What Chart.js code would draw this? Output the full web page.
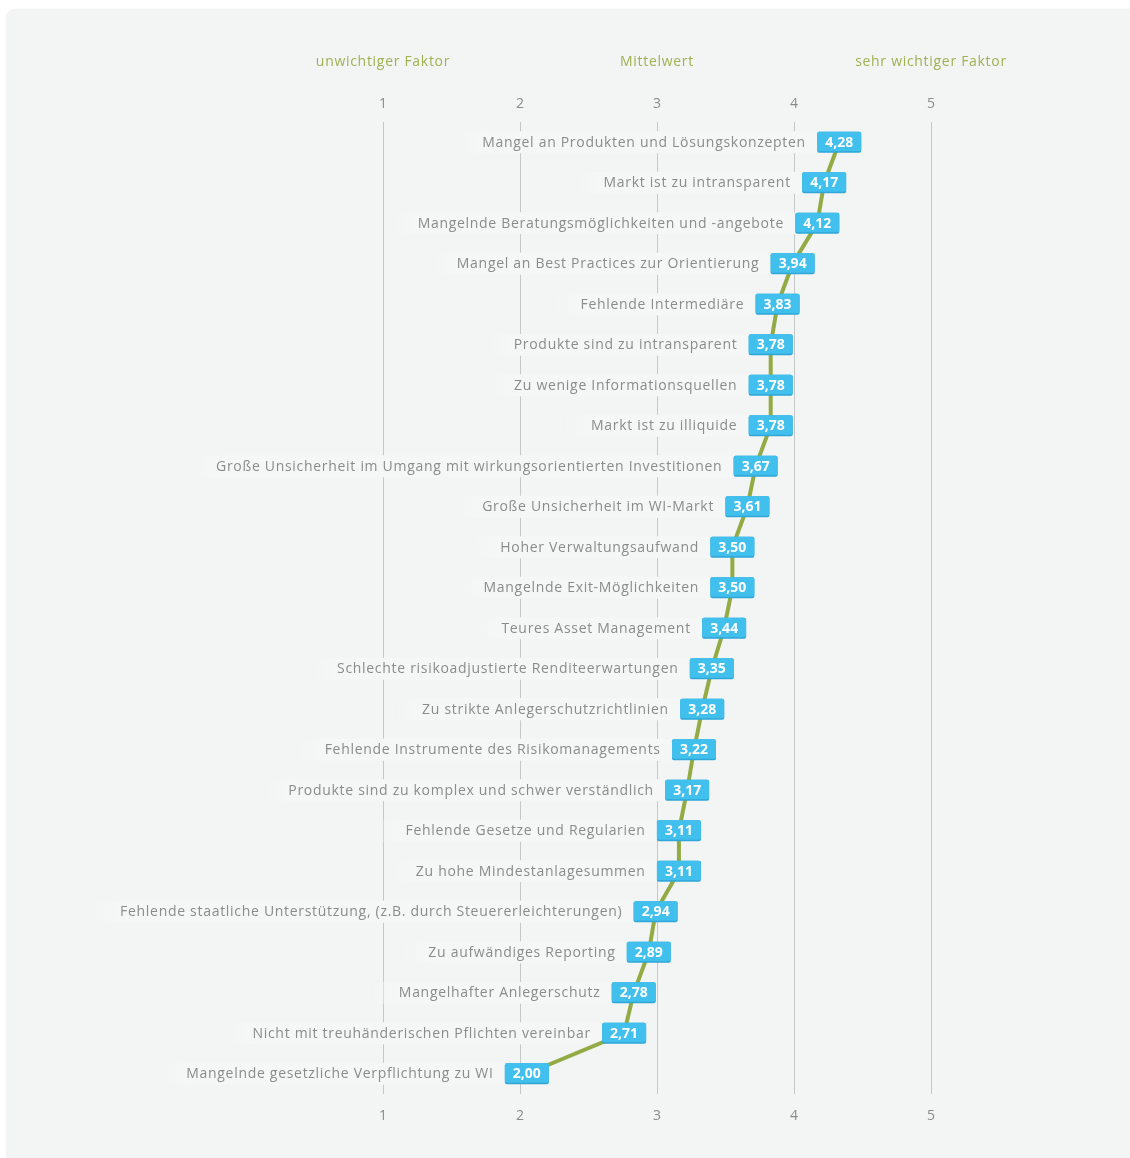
<!DOCTYPE html>
<html lang="de">
<head>
<meta charset="utf-8">
<script src="https://cdn.jsdelivr.net/npm/chart.js@4/dist/chart.umd.min.js"></script>
<style>
  html, body { margin: 0; padding: 0; background: #fff; }
  body { width: 1130px; height: 1158px; position: relative; overflow: hidden; }
  .card {
    position: absolute; left: 7px; top: 10px; width: 1150px; height: 1180px;
    background: #f3f4f4; border-radius: 8px; box-shadow: 0 0 3px rgba(0, 0, 0, 0.13);
  }
  #chart { position: absolute; left: 0; top: 0; }
</style>
</head>
<body>
<div class="card"></div>
<canvas id="chart" width="1130" height="1158"></canvas>
<script>
const categories = [
  'Mangel an Produkten und Lösungskonzepten',
  'Markt ist zu intransparent',
  'Mangelnde Beratungsmöglichkeiten und -angebote',
  'Mangel an Best Practices zur Orientierung',
  'Fehlende Intermediäre',
  'Produkte sind zu intransparent',
  'Zu wenige Informationsquellen',
  'Markt ist zu illiquide',
  'Große Unsicherheit im Umgang mit wirkungsorientierten Investitionen',
  'Große Unsicherheit im WI-Markt',
  'Hoher Verwaltungsaufwand',
  'Mangelnde Exit-Möglichkeiten',
  'Teures Asset Management',
  'Schlechte risikoadjustierte Renditeerwartungen',
  'Zu strikte Anlegerschutzrichtlinien',
  'Fehlende Instrumente des Risikomanagements',
  'Produkte sind zu komplex und schwer verständlich',
  'Fehlende Gesetze und Regularien',
  'Zu hohe Mindestanlagesummen',
  'Fehlende staatliche Unterstützung, (z.B. durch Steuererleichterungen)',
  'Zu aufwändiges Reporting',
  'Mangelhafter Anlegerschutz',
  'Nicht mit treuhänderischen Pflichten vereinbar',
  'Mangelnde gesetzliche Verpflichtung zu WI'
];
const values = [4.28, 4.17, 4.12, 3.94, 3.83, 3.78, 3.78, 3.78, 3.67, 3.61, 3.50, 3.50,
                3.44, 3.35, 3.28, 3.22, 3.17, 3.11, 3.11, 2.94, 2.89, 2.78, 2.71, 2.00];
const tickValues = [1, 2, 3, 4, 5];
const scaleNotes = ['unwichtiger Faktor', 'Mittelwert', 'sehr wichtiger Faktor'];
const scaleNoteAt = [1, 3, 5];

const FONT = '"Open Sans", sans-serif';
const GREEN = '#93ab45';
const BLUE = '#41c0ee';

function fmt(v) { return v.toFixed(2).replace('.', ','); }

function roundRect(ctx, x, y, w, h, r) {
  ctx.beginPath();
  ctx.moveTo(x + r, y);
  ctx.arcTo(x + w, y, x + w, y + h, r);
  ctx.arcTo(x + w, y + h, x, y + h, r);
  ctx.arcTo(x, y + h, x, y, r);
  ctx.arcTo(x, y, x + w, y, r);
  ctx.closePath();
  ctx.fill();
}

const BOX_W = 44, BOX_H = 21;

// row labels with their light band, value badges and the three scale notes
const rowDecor = {
  id: 'rowDecor',
  beforeDatasetsDraw(chart) {
    const ctx = chart.ctx;
    const pts = chart.getDatasetMeta(0).data;
    ctx.save();
    ctx.font = '14px ' + FONT;
    ctx.letterSpacing = '0.7px';
    ctx.textAlign = 'right';
    ctx.textBaseline = 'middle';
    pts.forEach((pt, i) => {
      const right = pt.x - BOX_W / 2 - 12;
      const w = ctx.measureText(categories[i]).width;
      const left = right - w - 28;
      const g = ctx.createLinearGradient(left, 0, left + 30, 0);
      g.addColorStop(0, 'rgba(246,247,247,0)');
      g.addColorStop(1, '#f5f6f6');
      ctx.fillStyle = g;
      ctx.fillRect(left, pt.y - 11, right - left + 12, 22);
      ctx.fillStyle = '#8a8c8c';
      ctx.fillText(categories[i], right + 0.7, pt.y + 0.5);
    });
    ctx.restore();
  },
  afterDatasetsDraw(chart) {
    const ctx = chart.ctx;
    const pts = chart.getDatasetMeta(0).data;
    ctx.save();
    ctx.textAlign = 'center';
    ctx.textBaseline = 'middle';
    ctx.font = 'bold 14px ' + FONT;
    pts.forEach((pt, i) => {
      const x = pt.x - BOX_W / 2, y = pt.y - BOX_H / 2;
      ctx.fillStyle = '#2ea6d6';
      roundRect(ctx, x, y, BOX_W, BOX_H, 2);
      ctx.fillStyle = BLUE;
      roundRect(ctx, x, y, BOX_W, BOX_H - 1.5, 2);
      ctx.fillStyle = '#fff';
      ctx.fillText(fmt(values[i]), pt.x, pt.y + 0.5);
    });
    ctx.restore();
  },
  afterDraw(chart) {
    const ctx = chart.ctx;
    const xs = chart.scales.x;
    ctx.save();
    ctx.font = '14px ' + FONT;
    ctx.letterSpacing = '0.7px';
    ctx.fillStyle = '#9fb152';
    ctx.textAlign = 'center';
    ctx.textBaseline = 'middle';
    scaleNotes.forEach((t, i) => {
      ctx.fillText(t, xs.getPixelForValue(scaleNoteAt[i]), xs.top - 20);
    });
    ctx.restore();
  }
};

const tickOpts = {
  color: '#8a8c8c',
  font: { family: FONT, size: 14 },
  stepSize: 1,
  callback: (v) => tickValues.includes(v) ? String(v) : ''
};

new Chart(document.getElementById('chart'), {
  type: 'line',
  data: {
    labels: categories,
    datasets: [{
      data: values,
      xAxisID: 'xv',
      yAxisID: 'y',
      borderColor: GREEN,
      borderWidth: 4,
      pointRadius: 0,
      tension: 0,
      clip: false
    }]
  },
  options: {
    indexAxis: 'y',
    responsive: false,
    animation: false,
    devicePixelRatio: 1,
    layout: { padding: { left: 383, right: 199, top: 82, bottom: 24 } },
    plugins: { legend: { display: false }, tooltip: { enabled: false } },
    scales: {
      x: {
        position: 'top',
        min: 1, max: 5,
        ticks: { ...tickOpts, padding: 10 },
        grid: { color: '#c6c8c8', lineWidth: 1, drawTicks: false },
        border: { display: false },
        afterFit: (s) => { s.height = 40; }
      },
      x2: {
        position: 'bottom',
        min: 1, max: 5,
        ticks: { ...tickOpts, padding: 14 },
        grid: { display: false, drawTicks: false },
        border: { display: false },
        afterFit: (s) => { s.height = 40; }
      },
      xv: {
        display: false,
        position: 'bottom',
        min: 0.95, max: 4.95
      },
      y: {
        type: 'category',
        display: false,
        offset: true
      }
    }
  },
  plugins: [rowDecor]
});
</script>
</body>
</html>
